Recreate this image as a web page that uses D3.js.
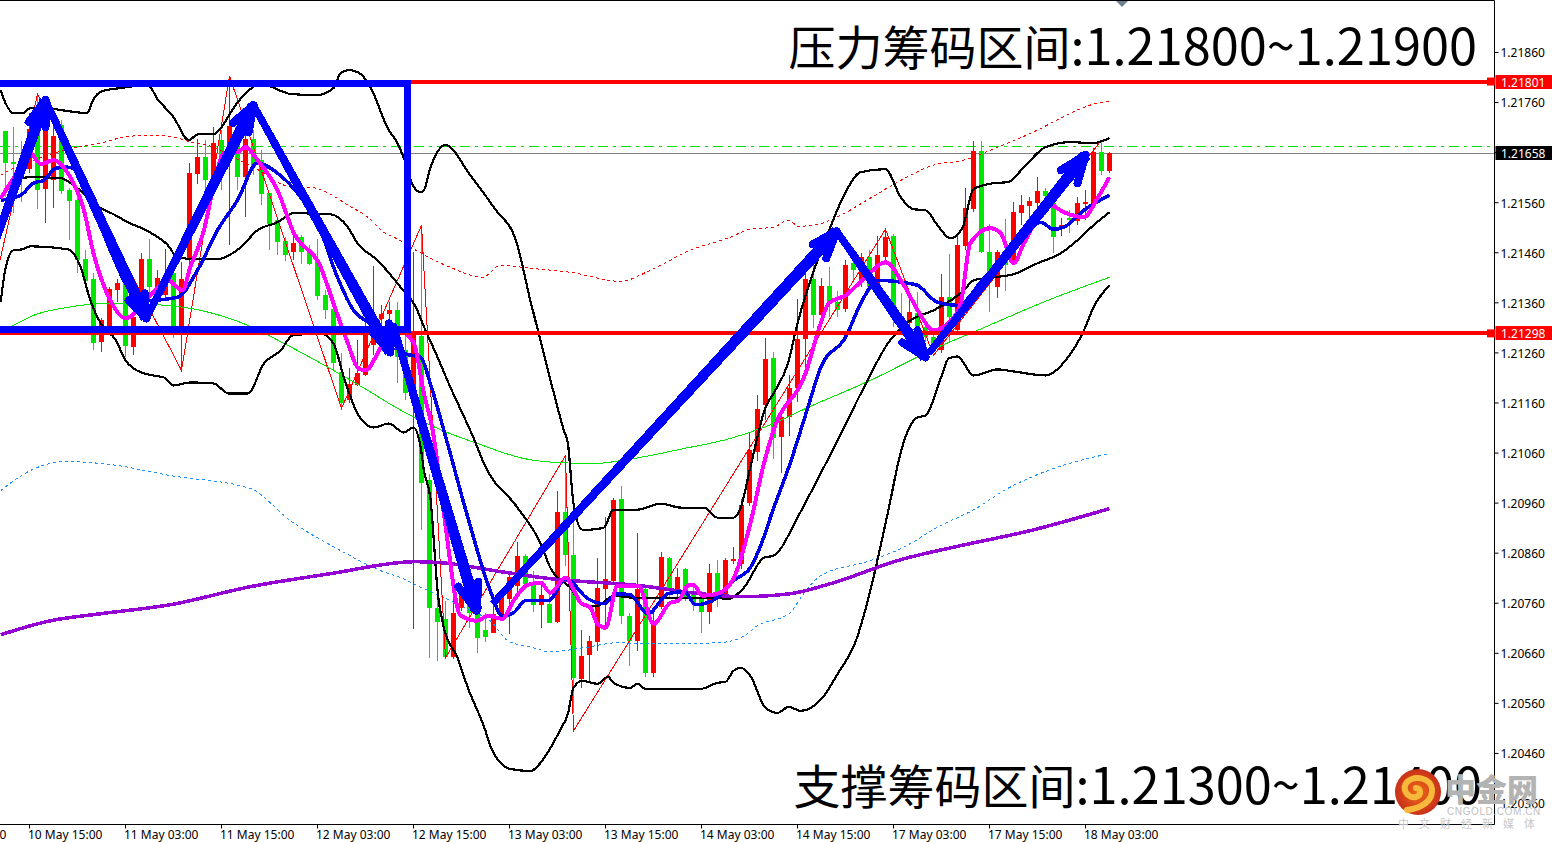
<!DOCTYPE html>
<html>
<head>
<meta charset="utf-8">
<title>EURUSD H1</title>
<script src="https://cdn.jsdelivr.net/npm/d3@7"></script>
<style>
  html, body { margin: 0; padding: 0; background: #fff; overflow: hidden; }
  svg { display: block; }
  .axis text { font-family: "Noto Sans", sans-serif; font-size: 12px; fill: #000; }
</style>
</head>
<body>
<script>
// Hourly candles, one value per bar, oldest first
const opens = [1.21702,1.21640,1.21644,1.21626,1.21744,1.21586,1.21604,1.21714,1.21584,1.21564,1.21446,1.21406,1.21280,1.21308,1.21384,1.21400,1.21270,1.21364,1.21446,1.21378,
  1.21374,1.21418,1.21310,1.21444,1.21616,1.21650,1.21610,1.21684,1.21674,1.21710,1.21610,1.21686,1.21644,1.21578,1.21524,1.21482,1.21460,1.21490,1.21464,1.21444,
  1.21374,1.21346,1.21220,1.21164,1.21194,1.21214,1.21274,1.21326,1.21336,1.21344,1.21264,1.21178,1.21292,1.21006,1.20750,1.20728,1.20652,1.20750,1.20760,1.20748,
  1.20706,1.20700,1.20730,1.20768,1.20794,1.20854,1.20800,1.20756,1.20758,1.20722,1.20942,1.20856,1.20608,1.20656,1.20682,1.20788,1.20804,1.20968,1.20734,1.20684,
  1.20788,1.20620,1.20752,1.20850,1.20784,1.20828,1.20784,1.20768,1.20742,1.20820,1.20774,1.20844,1.20838,1.20960,1.21062,1.21154,1.21248,1.21092,1.21130,1.21188,
  1.21286,1.21406,1.21334,1.21392,1.21360,1.21346,1.21438,1.21404,1.21450,1.21390,1.21450,1.21492,1.21332,1.21318,1.21338,1.21310,1.21290,1.21264,1.21370,1.21304,
  1.21472,1.21546,1.21662,1.21460,1.21390,1.21444,1.21438,1.21538,1.21552,1.21558,1.21582,1.21558,1.21506,1.21528,1.21522,1.21556,1.21558,1.21660,1.21622];
const highs = [1.21702,1.21710,1.21682,1.21738,1.21776,1.21744,1.21730,1.21724,1.21588,1.21570,1.21464,1.21418,1.21328,1.21390,1.21406,1.21410,1.21370,1.21458,1.21486,1.21424,
  1.21466,1.21424,1.21440,1.21638,1.21686,1.21684,1.21710,1.21704,1.21812,1.21734,1.21724,1.21704,1.21664,1.21578,1.21530,1.21490,1.21498,1.21494,1.21474,1.21486,
  1.21384,1.21354,1.21258,1.21228,1.21284,1.21324,1.21432,1.21354,1.21360,1.21360,1.21314,1.21460,1.21494,1.21018,1.20790,1.20764,1.20770,1.20798,1.20770,1.20804,
  1.20740,1.20770,1.20784,1.20824,1.20882,1.20858,1.20824,1.20798,1.20784,1.20984,1.21054,1.20930,1.20706,1.20694,1.20850,1.20932,1.20970,1.20994,1.20740,1.20900,
  1.20794,1.20744,1.20862,1.20852,1.20830,1.20830,1.20798,1.20784,1.20838,1.20846,1.20850,1.20872,1.20968,1.21100,1.21174,1.21288,1.21260,1.21148,1.21214,1.21366,
  1.21420,1.21478,1.21408,1.21430,1.21382,1.21444,1.21454,1.21458,1.21464,1.21492,1.21506,1.21496,1.21378,1.21370,1.21380,1.21320,1.21300,1.21416,1.21456,1.21492,
  1.21588,1.21682,1.21682,1.21516,1.21464,1.21526,1.21560,1.21574,1.21570,1.21610,1.21588,1.21564,1.21528,1.21544,1.21570,1.21584,1.21668,1.21680,1.21660];
const lows = [1.21570,1.21538,1.21560,1.21618,1.21546,1.21518,1.21548,1.21576,1.21484,1.21418,1.21390,1.21264,1.21260,1.21294,1.21360,1.21250,1.21254,1.21330,1.21370,1.21364,
  1.21364,1.21288,1.21224,1.21434,1.21596,1.21568,1.21584,1.21584,1.21474,1.21584,1.21530,1.21614,1.21554,1.21464,1.21454,1.21442,1.21444,1.21436,1.21434,1.21364,
  1.21326,1.21224,1.21148,1.21158,1.21192,1.21212,1.21254,1.21294,1.21294,1.21198,1.21164,1.20708,1.20906,1.20650,1.20644,1.20650,1.20648,1.20744,1.20710,1.20660,
  1.20682,1.20700,1.20726,1.20698,1.20770,1.20790,1.20742,1.20710,1.20720,1.20720,1.20834,1.20540,1.20590,1.20600,1.20664,1.20710,1.20798,1.20718,1.20634,1.20664,
  1.20612,1.20612,1.20748,1.20770,1.20770,1.20764,1.20744,1.20700,1.20718,1.20752,1.20772,1.20838,1.20828,1.20954,1.21044,1.21124,1.21048,1.21020,1.21094,1.21160,
  1.21224,1.21308,1.21310,1.21330,1.21330,1.21340,1.21404,1.21390,1.21380,1.21380,1.21444,1.21310,1.21294,1.21298,1.21294,1.21280,1.21260,1.21258,1.21278,1.21298,
  1.21464,1.21540,1.21458,1.21340,1.21368,1.21382,1.21436,1.21514,1.21504,1.21524,1.21534,1.21458,1.21492,1.21498,1.21514,1.21524,1.21552,1.21614,1.21618];
const closes = [1.21638,1.21636,1.21620,1.21706,1.21584,1.21724,1.21692,1.21582,1.21562,1.21444,1.21402,1.21278,1.21324,1.21386,1.21398,1.21272,1.21330,1.21446,1.21390,1.21408,
  1.21414,1.21308,1.21406,1.21618,1.21650,1.21604,1.21678,1.21634,1.21712,1.21610,1.21686,1.21630,1.21576,1.21516,1.21480,1.21454,1.21478,1.21460,1.21436,1.21372,
  1.21344,1.21238,1.21158,1.21196,1.21218,1.21304,1.21324,1.21336,1.21344,1.21250,1.21178,1.21294,1.21000,1.20750,1.20722,1.20652,1.20740,1.20780,1.20740,1.20690,
  1.20692,1.20738,1.20774,1.20812,1.20854,1.20798,1.20756,1.20776,1.20720,1.20942,1.20856,1.20610,1.20654,1.20684,1.20790,1.20808,1.20966,1.20734,1.20684,1.20788,
  1.20620,1.20724,1.20852,1.20786,1.20812,1.20770,1.20758,1.20742,1.20820,1.20768,1.20846,1.20848,1.20956,1.21066,1.21146,1.21246,1.21090,1.21130,1.21188,1.21286,
  1.21406,1.21334,1.21392,1.21360,1.21344,1.21434,1.21424,1.21450,1.21390,1.21454,1.21490,1.21344,1.21304,1.21340,1.21308,1.21290,1.21270,1.21370,1.21330,1.21474,
  1.21548,1.21662,1.21460,1.21408,1.21460,1.21434,1.21540,1.21554,1.21562,1.21582,1.21572,1.21490,1.21514,1.21524,1.21558,1.21560,1.21660,1.21622,1.21658];

// Indicators as [bar, price]
const bandUpper = [[-0.6,1.21784],[0,1.21758],[1,1.21738],[2.2,1.21738],[3.1,1.21748],[4.8,1.21748],[7.8,1.21742],[10.2,1.21738],[11,1.21766],[12.1,1.21782],[14.4,1.21788],[17.8,1.21794],[19,1.21766],[21,1.21730],[22.9,1.21684],[24.1,1.21696],[26,1.21696],[26.9,1.21708],[28.5,1.21748],[29.8,1.21774],[31.9,1.21796],[34.8,1.21780],[35.6,1.21776],[39,1.21774],[41,1.21788],[41.9,1.21818],[42.9,1.21824],[44.4,1.21816],[45.6,1.21790],[47.9,1.21704],[49,1.21678],[49.8,1.21648],[50.9,1.21594],[51.9,1.21580],[52.3,1.21584],[53.1,1.21628],[55,1.21674],[58.1,1.21614],[61.3,1.21544],[63.8,1.21484],[65.6,1.21364],[67.5,1.21244],[69.8,1.21104],[70.3,1.21078],[71,1.20958],[72.1,1.20906],[73.1,1.20906],[74.8,1.20910],[76,1.20946],[79,1.20946],[81.9,1.20958],[84.4,1.20950],[87.3,1.20950],[89,1.20930],[91,1.20930],[91.9,1.20950],[93.1,1.21030],[95,1.21150],[96,1.21178],[97.8,1.21238],[99,1.21318],[101.5,1.21444],[103.1,1.21510],[105,1.21580],[106.9,1.21620],[110,1.21626],[111.9,1.21570],[113.5,1.21546],[115,1.21544],[116.5,1.21514],[118.1,1.21488],[119.6,1.21508],[121,1.21586],[123.5,1.21598],[125.3,1.21600],[127.3,1.21630],[130,1.21670],[133.1,1.21680],[135.9,1.21678],[138,1.21688]];
const bandMiddle = [[-0.6,1.21568],[0.6,1.21598],[3.1,1.21610],[6.9,1.21608],[9,1.21588],[11.9,1.21548],[13.5,1.21536],[15.3,1.21520],[17.8,1.21502],[20.3,1.21474],[21.5,1.21450],[24,1.21446],[26.5,1.21446],[29.4,1.21470],[31.5,1.21504],[34,1.21520],[36,1.21538],[40.6,1.21536],[42.8,1.21510],[44,1.21478],[46.5,1.21444],[49.4,1.21390],[51.3,1.21350],[52.5,1.21304],[53.8,1.21258],[55.4,1.21198],[58.8,1.21078],[59.8,1.21038],[64,1.20950],[66.9,1.20878],[68.1,1.20830],[70.6,1.20790],[72.3,1.20754],[74,1.20754],[76,1.20774],[78.5,1.20770],[81.9,1.20770],[88.1,1.20770],[90.4,1.20768],[92.3,1.20790],[94.8,1.20850],[96,1.20854],[99,1.20930],[99.6,1.20948],[104,1.21084],[107.3,1.21190],[110.3,1.21278],[113.1,1.21324],[116,1.21344],[119.8,1.21384],[121,1.21404],[123.5,1.21410],[126,1.21416],[129,1.21438],[131.9,1.21458],[134,1.21484],[136,1.21514],[138,1.21540]];
const bandLower = [[-0.6,1.21360],[0,1.21428],[1,1.21464],[2.2,1.21466],[3.1,1.21472],[7.8,1.21466],[9.4,1.21430],[10.6,1.21364],[11.9,1.21318],[13.8,1.21284],[15,1.21244],[16,1.21228],[18.4,1.21214],[19.8,1.21210],[21,1.21194],[23.1,1.21200],[26,1.21198],[27.9,1.21178],[30.3,1.21178],[32.3,1.21238],[34.4,1.21264],[35.9,1.21294],[39.4,1.21298],[41,1.21278],[42.3,1.21210],[44,1.21138],[46,1.21110],[47.9,1.21118],[49.8,1.21100],[51,1.21110],[51.9,1.21070],[52.3,1.21024],[53.1,1.20970],[54.1,1.20770],[54.8,1.20710],[56.5,1.20650],[57.8,1.20590],[60,1.20504],[60.6,1.20474],[63.1,1.20428],[65.6,1.20424],[67.5,1.20454],[69.4,1.20508],[70.3,1.20538],[71,1.20590],[72.1,1.20604],[74,1.20598],[75.3,1.20612],[76,1.20600],[78.1,1.20590],[79,1.20598],[80,1.20588],[86.9,1.20588],[89,1.20600],[90,1.20602],[91,1.20624],[91.9,1.20630],[93.1,1.20614],[95,1.20550],[96.5,1.20540],[97.9,1.20552],[99.4,1.20544],[102.1,1.20570],[104.1,1.20620],[106.3,1.20684],[108.1,1.20784],[109.4,1.20874],[110.4,1.20948],[111.9,1.21060],[113.1,1.21114],[114,1.21130],[115,1.21134],[116.9,1.21208],[117.9,1.21248],[119,1.21252],[121,1.21214],[124,1.21226],[126,1.21222],[130,1.21214],[132.8,1.21250],[134.8,1.21304],[136,1.21350],[138,1.21394]];
const maGreen = [[-0.6,1.21304],[1,1.21314],[3.5,1.21334],[7.8,1.21350],[12.8,1.21358],[18.1,1.21356],[24.4,1.21344],[30.3,1.21314],[34.8,1.21278],[41,1.21224],[45.3,1.21184],[48.8,1.21150],[54.6,1.21104],[59,1.21078],[64.8,1.21048],[69,1.21040],[73.5,1.21038],[78.5,1.21048],[84.8,1.21068],[90.6,1.21088],[96,1.21118],[100.3,1.21150],[108.1,1.21204],[116.5,1.21270],[121.5,1.21304],[130.3,1.21364],[138,1.21410]];
const envelopeUpper = [[-0.6,1.21614],[1,1.21628],[3.5,1.21644],[9,1.21670],[11.9,1.21678],[14.8,1.21690],[18.1,1.21694],[21,1.21690],[23.1,1.21680],[26,1.21670],[28.5,1.21650],[31,1.21630],[36,1.21590],[37.8,1.21590],[40.6,1.21576],[42.8,1.21554],[45.3,1.21530],[47.3,1.21500],[48.8,1.21488],[51.3,1.21464],[52.9,1.21450],[55.9,1.21428],[59.6,1.21410],[61.9,1.21434],[65.6,1.21428],[70.6,1.21420],[76.9,1.21402],[80.6,1.21424],[85.6,1.21464],[90.6,1.21490],[93.1,1.21506],[96,1.21510],[97.9,1.21524],[99.1,1.21512],[101.6,1.21516],[104.4,1.21534],[108.1,1.21568],[111.5,1.21600],[116,1.21634],[119.8,1.21644],[124,1.21670],[129,1.21704],[131.9,1.21728],[135.6,1.21754],[138,1.21762]];
const envelopeLower = [[-0.6,1.20984],[3.1,1.21024],[7.5,1.21042],[13.1,1.21036],[20.6,1.21014],[30.6,1.20988],[35.6,1.20924],[41.9,1.20864],[46.9,1.20824],[49.4,1.20810],[51.5,1.20794],[55.6,1.20764],[58.1,1.20744],[60.6,1.20724],[62.8,1.20684],[66,1.20670],[68.1,1.20662],[72.3,1.20670],[76.5,1.20680],[80.6,1.20678],[89,1.20680],[91.9,1.20690],[94,1.20714],[98.1,1.20740],[99.4,1.20770],[101.9,1.20814],[108.1,1.20844],[111.9,1.20868],[116.9,1.20914],[121.3,1.20948],[124.8,1.20984],[130.3,1.21024],[138,1.21058]];
const maPurple = [[-0.6,1.20696],[5.6,1.20724],[11.9,1.20738],[20.6,1.20756],[30.6,1.20792],[40.6,1.20818],[51.3,1.20842],[54.4,1.20840],[61.9,1.20822],[68.1,1.20808],[79.4,1.20794],[86.9,1.20778],[91.9,1.20772],[98.1,1.20778],[103.1,1.20798],[111.9,1.20846],[119.4,1.20874],[128.1,1.20904],[138,1.20948]];
const maMagenta = [[-0.6,1.21568],[1,1.21608],[3.1,1.21658],[4.4,1.21636],[6,1.21644],[7.8,1.21618],[9.8,1.21544],[11,1.21458],[11.9,1.21410],[13.1,1.21364],[15,1.21328],[18.1,1.21374],[20.3,1.21404],[22.1,1.21384],[23.1,1.21430],[24.8,1.21504],[26,1.21590],[27.3,1.21658],[29,1.21660],[30,1.21670],[31.5,1.21644],[34,1.21584],[36,1.21500],[39.4,1.21430],[41,1.21358],[42.8,1.21278],[44.1,1.21228],[45,1.21224],[46.9,1.21270],[48.5,1.21310],[51,1.21280],[52.3,1.21178],[53.4,1.21104],[54.8,1.20938],[56.9,1.20734],[59,1.20724],[60.3,1.20734],[62.1,1.20728],[63.5,1.20764],[65.3,1.20796],[66.9,1.20800],[68.1,1.20780],[70,1.20810],[71.9,1.20760],[73.1,1.20750],[74,1.20718],[75,1.20710],[76.5,1.20794],[79.1,1.20794],[81,1.20718],[83.1,1.20760],[84.1,1.20764],[85.3,1.20794],[86,1.20796],[87.1,1.20774],[89,1.20778],[91,1.20808],[93.1,1.20918],[94.8,1.21038],[96,1.21104],[100,1.21218],[101.9,1.21318],[102.9,1.21358],[105,1.21374],[107.5,1.21410],[110,1.21440],[112.3,1.21394],[114.4,1.21334],[116,1.21304],[117.8,1.21318],[119.4,1.21358],[120.6,1.21478],[123.1,1.21508],[124.4,1.21498],[126,1.21438],[127.3,1.21478],[130.6,1.21554],[132.3,1.21540],[134.8,1.21530],[136.5,1.21568],[138,1.21610]];
const maBlue = [[-0.6,1.21564],[1.9,1.21574],[3.5,1.21598],[4.8,1.21604],[6.3,1.21628],[7.8,1.21630],[8.8,1.21624],[10.6,1.21564],[13.1,1.21464],[15.6,1.21384],[18.1,1.21364],[21.5,1.21370],[24,1.21424],[26.5,1.21504],[29,1.21564],[31.5,1.21638],[34,1.21618],[36.9,1.21570],[39,1.21518],[41.5,1.21410],[43.5,1.21344],[45.6,1.21318],[47.9,1.21290],[49.8,1.21258],[51.9,1.21250],[53.1,1.21198],[54.8,1.21104],[57.8,1.20930],[60.6,1.20784],[62.1,1.20734],[63.5,1.20740],[65,1.20764],[67.9,1.20764],[70,1.20808],[72.8,1.20768],[74.8,1.20758],[76.5,1.20778],[78.1,1.20776],[80.3,1.20738],[82.8,1.20778],[84.8,1.20782],[86.3,1.20756],[87.3,1.20758],[89,1.20770],[91,1.20804],[93.1,1.20830],[94.4,1.20874],[95.9,1.20944],[97.9,1.21030],[100.3,1.21150],[101.9,1.21230],[105,1.21290],[107.1,1.21364],[109,1.21404],[112.8,1.21398],[114,1.21394],[116.5,1.21360],[119,1.21354],[122.3,1.21408],[127.3,1.21490],[129.4,1.21520],[131,1.21506],[132.3,1.21510],[134.8,1.21544],[138,1.21574]];
const zigzag = [[-3,1.21280],[4,1.21776],[22,1.21224],[28,1.21812],[42,1.21148],[52,1.21514],[55,1.20650],[70,1.21054],[71,1.20504],[110,1.21506],[116,1.21254],[137,1.21684]];

// Hand drawn analysis on the chart
const boxCorners = [[-1,1.21798],[50.25,1.21798],[50.25,1.21305],[-1,1.21305]];
const arrows = [
  {tail: [-2,1.21448], tip: [5,1.21764], barbs: [[2.9,1.21720],[5,1.21710]]},
  {tail: [5,1.21764], tip: [17.6,1.21328], barbs: [[15.4,1.21364],[17.4,1.21378]]},
  {tail: [17.6,1.21328], tip: [31,1.21754], barbs: [[28.4,1.21718],[30.4,1.21700]]},
  {tail: [31,1.21754], tip: [48.1,1.21260], barbs: [[45.9,1.21300],[47.9,1.21318]]},
  {tail: [48.4,1.21318], tip: [58.9,1.20744], barbs: [[56.6,1.20792],[59.1,1.20802]]},
  {tail: [60.9,1.20758], tip: [103.9,1.21502], barbs: [[100.9,1.21476],[102.6,1.21448]]},
  {tail: [103.9,1.21502], tip: [115,1.21250], barbs: [[112.1,1.21280],[114,1.21304]]},
  {tail: [115.4,1.21258], tip: [135,1.21654], barbs: [[131.9,1.21624],[134,1.21598]]}
];

const priceTicks = [1.2186,1.2176,1.2166,1.2156,1.2146,1.2136,1.2126,1.2116,1.2106,1.2096,1.2086,1.2076,1.2066,1.2056,1.2046,1.2036];
const timeTickBars = [-9,3,15,27,39,51,63,75,87,99,111,123,135];
const timeTickLabels = ['10 May 03:00','10 May 15:00','11 May 03:00','11 May 15:00','12 May 03:00','12 May 15:00','13 May 03:00','13 May 15:00','14 May 03:00','14 May 15:00','17 May 03:00','17 May 15:00','18 May 03:00'];

const levelRed = [1.21801, 1.21298];
const levelGreen = 1.21671;
const lastPrice = 1.21658;
const titleTop = ['压力筹码区间', ':1.21800~1.21900'];
const titleBottom = ['支撑筹码区间', ':1.21300~1.21400'];

const WIDTH = 1552, HEIGHT = 842;
const PLOT_RIGHT = 1494.5, PLOT_BOTTOM = 824.5;
const BODY_WIDTH = 5;
const ARROW_TAIL = 7, ARROW_TIP = 12, BARB_WIDTH = 8;
const GREEN = '#00e600', RED = '#ff0000', BLUE = '#0000ff';

const x = d3.scaleLinear().domain([0, 138]).range([5.5, 1109.5]);
const y = d3.scaleLinear().domain([1.2036, 1.2186]).range([803, 52]);

const svg = d3.select('body').append('svg').attr('width', WIDTH).attr('height', HEIGHT);
svg.append('defs').append('clipPath').attr('id', 'plot')
  .append('rect').attr('x', 0).attr('y', 0).attr('width', PLOT_RIGHT).attr('height', PLOT_BOTTOM);

// MT4 draws without antialiasing
const plot = svg.append('g').attr('clip-path', 'url(#plot)').attr('shape-rendering', 'crispEdges');
const line = d3.line().x(d => x(d[0])).y(d => y(d[1]));
const smooth = d3.line().x(d => x(d[0])).y(d => y(d[1])).curve(d3.curveMonotoneX);

function drawSeries(data, color, width, dash, path) {
  plot.append('path')
    .attr('d', (path || smooth)(data))
    .attr('fill', 'none')
    .attr('stroke', color)
    .attr('stroke-width', width)
    .attr('stroke-dasharray', dash || null);
}

// last price and the dash-dot level sit behind the candles
const hairline = v => Math.floor(y(v)) + 0.5;
plot.append('line').attr('x1', 0).attr('x2', PLOT_RIGHT).attr('y1', hairline(lastPrice)).attr('y2', hairline(lastPrice))
  .attr('stroke', '#808080').attr('stroke-width', 1);
plot.append('line').attr('x1', 0).attr('x2', PLOT_RIGHT).attr('y1', hairline(levelGreen)).attr('y2', hairline(levelGreen))
  .attr('stroke', '#00e000').attr('stroke-width', 1).attr('stroke-dasharray', '10 5 3 5');

const bars = d3.range(opens.length);
const candleColor = i => closes[i] >= opens[i] ? RED : GREEN;

plot.selectAll('line.wick').data(bars).enter().append('line')
  .attr('class', 'wick')
  .attr('x1', d => x(d)).attr('x2', d => x(d))
  .attr('y1', d => y(highs[d])).attr('y2', d => y(lows[d]))
  .attr('stroke', candleColor);

plot.selectAll('rect.body').data(bars).enter().append('rect')
  .attr('class', 'body')
  .attr('x', d => x(d) - BODY_WIDTH / 2)
  .attr('y', d => y(Math.max(opens[d], closes[d])))
  .attr('width', BODY_WIDTH)
  .attr('height', d => Math.max(1, Math.abs(y(opens[d]) - y(closes[d]))))
  .attr('fill', candleColor);

drawSeries(envelopeUpper, RED, 1, '3 3');
drawSeries(envelopeLower, '#1e90ff', 1, '3 3');
drawSeries(zigzag, RED, 1, null, line);
drawSeries(maGreen, '#00e600', 1);
drawSeries(bandUpper, '#000', 2.2);
drawSeries(bandMiddle, '#000', 2.2);
drawSeries(bandLower, '#000', 2.2);
drawSeries(maPurple, '#9400d3', 3.5);
drawSeries(maBlue, '#0000e6', 3.5);
drawSeries(maMagenta, '#ff00ff', 4);

levelRed.forEach(level => {
  plot.append('line').attr('x1', 0).attr('x2', PLOT_RIGHT).attr('y1', y(level)).attr('y2', y(level))
    .attr('stroke', RED).attr('stroke-width', 4);
});

// hand drawn box and arrows
plot.append('path')
  .attr('d', line(boxCorners))
  .attr('fill', 'none').attr('stroke', BLUE).attr('stroke-width', 7);

// the pen strokes widen toward the tip
function arrowShaft(a) {
  const x0 = x(a.tail[0]), y0 = y(a.tail[1]), x1 = x(a.tip[0]), y1 = y(a.tip[1]);
  const len = Math.hypot(x1 - x0, y1 - y0);
  const nx = -(y1 - y0) / len, ny = (x1 - x0) / len;
  const w0 = ARROW_TAIL / 2, w1 = ARROW_TIP / 2;
  return `M${x0 + nx * w0},${y0 + ny * w0}L${x1 + nx * w1},${y1 + ny * w1}L${x1 - nx * w1},${y1 - ny * w1}L${x0 - nx * w0},${y0 - ny * w0}Z`;
}

arrows.forEach(a => {
  const g = plot.append('g').attr('stroke', BLUE).attr('stroke-linecap', 'round').attr('fill', 'none');
  g.append('path').attr('d', arrowShaft(a)).attr('fill', BLUE).attr('stroke', 'none');
  a.barbs.forEach(b => g.append('path').attr('d', line([b, a.tip])).attr('stroke-width', BARB_WIDTH));
});

// frame and axes
svg.append('path')
  .attr('d', `M0,0.5H${PLOT_RIGHT}V${PLOT_BOTTOM}H0`)
  .attr('fill', 'none').attr('stroke', '#000');

const yAxis = d3.axisRight(y).tickValues(priceTicks).tickFormat(d3.format('.5f')).tickSize(4).tickPadding(2);
svg.append('g').attr('class', 'axis').attr('transform', `translate(${PLOT_RIGHT},0)`).call(yAxis)
  .call(g => g.select('.domain').remove())
  .call(g => g.selectAll('text').attr('dy', '0.4em'));

const xAxis = d3.axisBottom(x).offset(0).tickValues(timeTickBars).tickFormat((d, i) => timeTickLabels[i]).tickSize(4).tickPadding(2);
svg.append('g').attr('class', 'axis').attr('transform', `translate(0,${PLOT_BOTTOM})`).call(xAxis)
  .call(g => g.select('.domain').remove())
  .call(g => g.selectAll('text').attr('text-anchor', 'start').attr('dx', -1.5));

// price tags on the axis
function priceTag(value, fill) {
  const cy = Math.round(y(value));
  svg.append('rect').attr('x', PLOT_RIGHT + 1).attr('y', cy - 7).attr('width', WIDTH - PLOT_RIGHT).attr('height', 14).attr('fill', fill);
  svg.append('text').attr('x', 1501).attr('y', cy + 4.5)
    .attr('font-family', '"Noto Sans", sans-serif').attr('font-size', 12).attr('fill', '#fff')
    .text(d3.format('.5f')(value));
}
levelRed.forEach(level => {
  priceTag(level, RED);
  svg.append('rect').attr('x', 1487).attr('y', y(level) - 4).attr('width', 8).attr('height', 8).attr('fill', RED);
});
priceTag(lastPrice, '#000');

// chart shift marker
svg.append('path').attr('d', 'M1116,1H1128L1122,7Z').attr('fill', '#708090');

// the han characters run a little smaller than the digits in the original
function title(parts, right, baseline) {
  const t = svg.append('text').attr('x', right).attr('y', baseline).attr('text-anchor', 'end')
    .attr('font-family', '"Noto Sans CJK SC", sans-serif').attr('fill', '#000');
  t.append('tspan').attr('font-size', 47).text(parts[0]);
  t.append('tspan').attr('font-size', 50.5).text(parts[1]);
}
title(titleTop, 1477, 65);
title(titleBottom, 1482, 804);

// watermark
const logo = svg.append('g');
const grad = logo.append('defs').append('radialGradient').attr('id', 'logoFill');
grad.append('stop').attr('offset', '0%').attr('stop-color', '#ee6a18');
grad.append('stop').attr('offset', '100%').attr('stop-color', '#c8301a');
logo.append('circle').attr('cx', 1418).attr('cy', 792).attr('r', 23).attr('fill', 'url(#logoFill)');
logo.append('path')
  .attr('transform', 'translate(1418,792)')
  .attr('d', 'M-11,18C5,16 15,8 14,-3C13,-13 -2,-18 -11,-10C-17,-3 -10,7 -2,5C4,3 3,-4 -2,-4')
  .attr('fill', 'none').attr('stroke', '#f6b93b').attr('stroke-width', 6).attr('stroke-linecap', 'round');
logo.append('text').attr('x', 1445).attr('y', 801)
  .attr('font-family', '"Noto Sans CJK SC", sans-serif').attr('font-weight', 900).attr('font-size', 31)
  .attr('fill', '#b3b3b3').text('中金网');
logo.append('text').attr('x', 1447).attr('y', 815)
  .attr('font-family', '"Liberation Sans", sans-serif').attr('font-size', 10).attr('letter-spacing', 0.6)
  .attr('fill', '#c0c0c0').text('CNGOLD.COM.CN');
logo.append('text').attr('x', 1398).attr('y', 828)
  .attr('font-family', '"Noto Sans CJK SC", sans-serif').attr('font-size', 11).attr('letter-spacing', 10)
  .attr('fill', '#c8c8c8').text('中文财经新媒体');
</script>
</body>
</html>
